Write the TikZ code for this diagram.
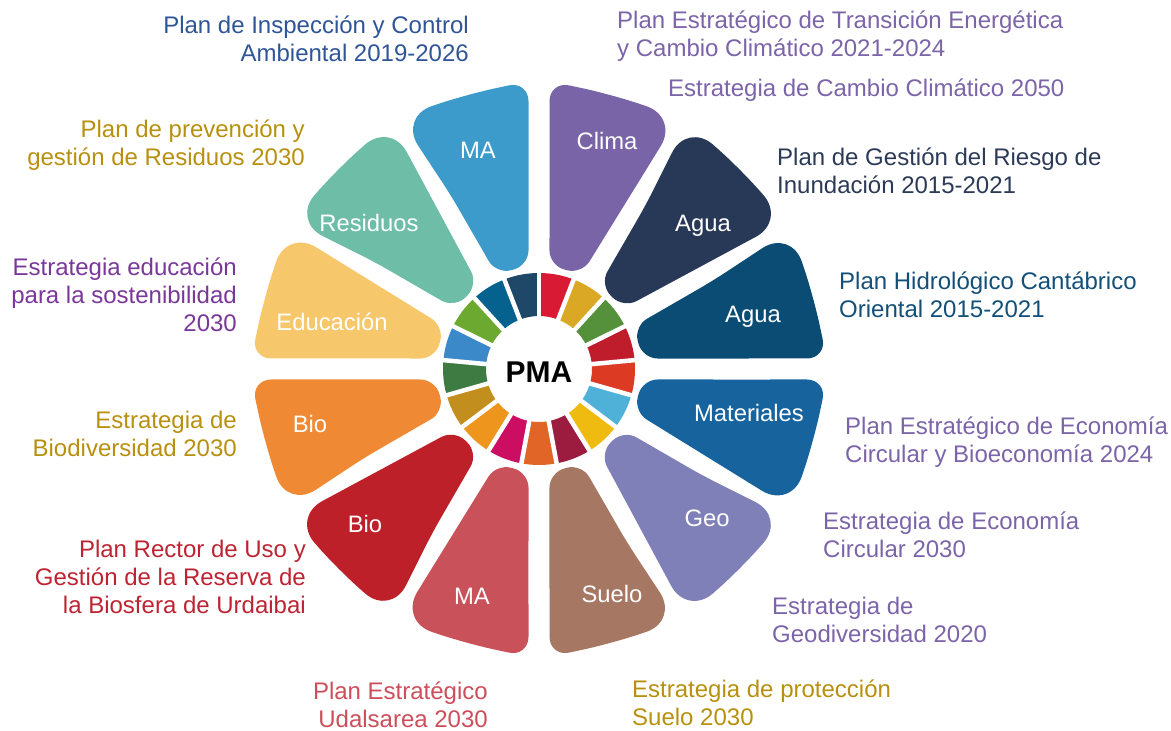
\documentclass[tikz,border=0pt]{standalone}
\usepackage{fontspec}
\setmainfont{Liberation Sans}
\usetikzlibrary{calc}
% petal colours
\definecolor{cMAb}{HTML}{3C9BCA}
\definecolor{cClima}{HTML}{7864A6}
\definecolor{cAguaA}{HTML}{283957}
\definecolor{cAguaB}{HTML}{0A4C74}
\definecolor{cMat}{HTML}{17639E}
\definecolor{cGeo}{HTML}{8080B8}
\definecolor{cSuelo}{HTML}{A67864}
\definecolor{cMAr}{HTML}{C95159}
\definecolor{cBioR}{HTML}{BE2029}
\definecolor{cBioO}{HTML}{EF8933}
\definecolor{cEdu}{HTML}{F7C76B}
\definecolor{cRes}{HTML}{6DBDA7}
% SDG colours
\definecolor{s1}{HTML}{D91A35}
\definecolor{s2}{HTML}{DBA826}
\definecolor{s3}{HTML}{55913A}
\definecolor{s4}{HTML}{C01D2C}
\definecolor{s5}{HTML}{DD3A24}
\definecolor{s6}{HTML}{4FB0D8}
\definecolor{s7}{HTML}{EFBB10}
\definecolor{s8}{HTML}{9B1C3E}
\definecolor{s9}{HTML}{E06526}
\definecolor{s10}{HTML}{CC0E63}
\definecolor{s11}{HTML}{EE951E}
\definecolor{s12}{HTML}{C28E1E}
\definecolor{s13}{HTML}{3E7B43}
\definecolor{s14}{HTML}{3B89C9}
\definecolor{s15}{HTML}{6BA931}
\definecolor{s16}{HTML}{05618E}
\definecolor{s17}{HTML}{1F4768}
% text colours
\definecolor{tBlue}{HTML}{2F5597}
\definecolor{tPurple}{HTML}{7B64A8}
\definecolor{tNavy}{HTML}{2B3A57}
\definecolor{tTeal}{HTML}{12507A}
\definecolor{tGold}{HTML}{B8900F}
\definecolor{tRose}{HTML}{CD4E5B}
\definecolor{tRed}{HTML}{BE2331}
\definecolor{tViolet}{HTML}{7A3799}

\begin{document}
\begin{tikzpicture}[x=1pt,y=1pt,
  lbl/.style={font=\fontsize{24}{28.3}\selectfont, inner sep=0pt},
  petallbl/.style={font=\fontsize{23.8}{28}\selectfont, text=white, inner sep=0pt, anchor=base}]
\useasboundingbox (0,0) rectangle (1171,731);
\coordinate (C) at (539,362);

% SDG ring
\foreach \i/\c in {1/s1,2/s2,3/s3,4/s4,5/s5,6/s6,7/s7,8/s8,9/s9,10/s10,11/s11,12/s12,13/s13,14/s14,15/s15,16/s16,17/s17}{
  \pgfmathsetmacro{\aa}{90-(\i-1)*360/17}
  \pgfmathsetmacro{\ab}{90-\i*360/17}
  \fill[\c] ($(C)+(\aa:53pt)$) arc[start angle=\aa, end angle=\ab, radius=53pt]
    -- ($(C)+(\ab:96pt)$) arc[start angle=\ab, end angle=\aa, radius=96pt] -- cycle;
}
\foreach \i in {0,...,16}{
  \pgfmathsetmacro{\aa}{90-\i*360/17}
  \coordinate (g\i) at ($(C)+(\aa:100pt)$);
  \draw[white, line width=4.5pt] (C) -- (g\i);
}

% petals: start angle, colour, corner cut at start-side and end-side outer corners
\foreach \t/\c/\cornA/\cornB in {120/cMAb/34/20, 90/cClima/20/34, 60/cAguaA/34/34, 30/cAguaB/34/20, 0/cMat/20/34, -30/cGeo/34/34, -60/cSuelo/34/20, -90/cMAr/20/34, -120/cBioR/34/34, -150/cBioO/34/20, -180/cEdu/20/34, -210/cRes/34/34}{
  \pgfmathsetmacro{\tb}{\t-30}
  \pgfmathsetmacro{\oA}{\cornA>30 ? 1.0 : 2.09}
  \pgfmathsetmacro{\oB}{\cornB>30 ? 1.0 : 2.09}
  \pgfmathsetmacro{\pm}{\t-3.09}
  \pgfmathsetmacro{\pa}{\t-\oA}
  \pgfmathsetmacro{\pc}{\t-15}
  \pgfmathsetmacro{\pb}{\tb+\oB}
  \pgfmathsetmacro{\pi}{\tb+5.79}
  \pgfmathsetmacro{\pj}{\t-5.79}
  \fill[\c] ($(C)+(\pm:195pt)$)
    [rounded corners=\cornA pt] -- ($(C)+(\pa:288pt)$)
    [rounded corners=30pt] -- ($(C)+(\pc:284pt)$)
    [rounded corners=\cornB pt] -- ($(C)+(\pb:288pt)$)
    [rounded corners=15pt] -- ($(C)+(\pi:104pt)$)
    -- ($(C)+(\pj:104pt)$) -- cycle;
}

% petal labels
\node[petallbl] (p1) at (478,572) {MA};
\node[petallbl] (p2) at (607,581) {Clima};
\node[petallbl] (p3) at (703,499) {Agua};
\node[petallbl] (p4) at (753,408) {Agua};
\node[petallbl] (p5) at (749,309) {Materiales};
\node[petallbl] (p6) at (707,204) {Geo};
\node[petallbl] (p7) at (612,128) {Suelo};
\node[petallbl] (p8) at (472,126) {MA};
\node[petallbl] (p9) at (365,198) {Bio};
\node[petallbl] (p10) at (310,298) {Bio};
\node[petallbl] (p11) at (332,400) {Educación};
\node[petallbl] (p12) at (369,499) {Residuos};

% centre
\node[font=\bfseries\fontsize{30}{36}\selectfont, anchor=base, inner sep=0pt] (pma) at (539,348) {PMA};

% outer texts (anchor = baseline of the last line)
\node[lbl, text=tBlue, align=right, anchor=base east] (t1) at (469,669) {Plan de Inspección y Control\\Ambiental 2019-2026};
\node[lbl, text=tPurple, align=left, anchor=base west] (t2) at (617,674) {Plan Estratégico de Transición Energética\\y Cambio Climático 2021-2024};
\node[lbl, text=tPurple, anchor=base west] (t3) at (668,634) {Estrategia de Cambio Climático 2050};
\node[lbl, text=tNavy, align=left, anchor=base west] (t4) at (777,537) {Plan de Gestión del Riesgo de\\Inundación 2015-2021};
\node[lbl, text=tTeal, align=left, anchor=base west] (t5) at (839,413) {Plan Hidrológico Cantábrico\\Oriental 2015-2021};
\node[lbl, text=tPurple, align=left, anchor=base west] (t6) at (845,268) {Plan Estratégico de Economía\\Circular y Bioeconomía 2024};
\node[lbl, text=tPurple, align=left, anchor=base west] (t7) at (823,173) {Estrategia de Economía\\Circular 2030};
\node[lbl, text=tPurple, align=left, anchor=base west] (t8) at (772,88) {Estrategia de\\Geodiversidad 2020};
\node[lbl, text=tGold, align=left, anchor=base west] (t9) at (632,5) {Estrategia de protección\\Suelo 2030};
\node[lbl, text=tRose, align=right, anchor=base east] (t10) at (488,3) {Plan Estratégico\\Udalsarea 2030};
\node[lbl, text=tRed, align=right, anchor=base east] (t11) at (306,117) {Plan Rector de Uso y\\Gestión de la Reserva de\\la Biosfera de Urdaibai};
\node[lbl, text=tGold, align=right, anchor=base east] (t12) at (237,274) {Estrategia de\\Biodiversidad 2030};
\node[lbl, text=tViolet, align=right, anchor=base east] (t13) at (237,399) {Estrategia educación\\para la sostenibilidad\\2030};
\node[lbl, text=tGold, align=right, anchor=base east] (t14) at (305,565) {Plan de prevención y\\gestión de Residuos 2030};
\end{tikzpicture}
\end{document}
